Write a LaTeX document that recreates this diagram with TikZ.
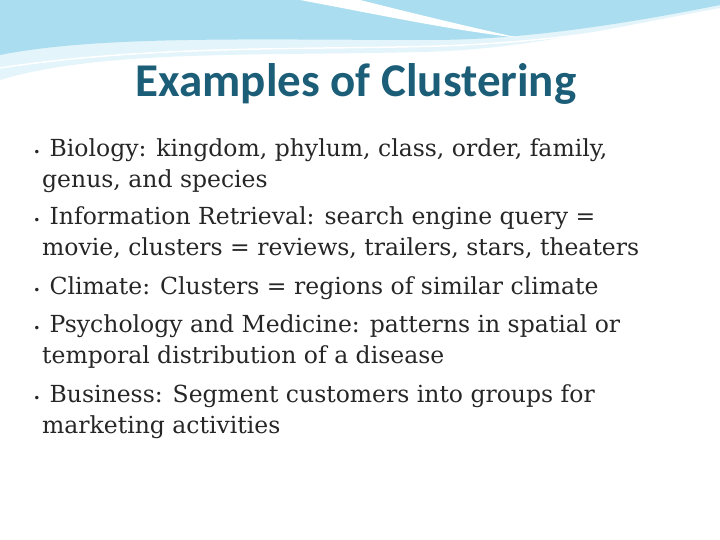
\documentclass[tikz,border=0pt]{standalone}
\usepackage{fontspec}
\setmainfont{DejaVu Serif}
\newfontfamily\titlefont{Carlito}
\usetikzlibrary{positioning}
\definecolor{wavelight}{HTML}{E3F4FA}
\definecolor{wavemid}{HTML}{A9DDEF}
\definecolor{titleblue}{HTML}{1C5E78}
\definecolor{bodytext}{HTML}{262626}
\begin{document}
\begin{tikzpicture}[x=1pt,y=-1pt,
    bullet/.style={font=\fontsize{12}{14}\selectfont,text=bodytext},
    item/.style={anchor=north west,align=left,inner sep=0pt,font=\fontsize{23.5}{31}\selectfont,text=bodytext}]
  \useasboundingbox (0,0) rectangle (720,540);
  % header waves
  \fill[wavelight] (0,0) -- (720,0) -- (720,8) .. controls (600,30) and (520,50) .. (420,52)
      .. controls (250,56) and (100,50) .. (0,80) -- cycle;
  \fill[wavemid] (0,0) -- (720,0) -- (720,5) .. controls (620,25) and (520,40) .. (430,40)
      .. controls (260,40) and (100,35) .. (0,55) -- cycle;
  \fill[white] (300,0) .. controls (380,15) and (450,30) .. (520,38)
      .. controls (460,25) and (400,10) .. (360,0) -- cycle;
  \draw[white,line width=1.5pt] (0,68) .. controls (150,45) and (300,50) .. (440,46)
      .. controls (560,42) and (650,25) .. (720,10);
  % title
  \node[font=\titlefont\bfseries\fontsize{47}{50}\selectfont,text=titleblue] (title) at (356,84) {Examples of Clustering};
  % bullets and items
  \foreach \y/\name in {152/b1,220/b2,290/b3,328/b4,398/b5}
    \node[bullet] (\name) at (37,\y+1) {\textbullet};
  \node[item] (i1) at (42,138) {\ Biology: kingdom, phylum, class, order, family,\\genus, and species};
  \node[item] (i2) at (42,206) {\ Information Retrieval: search engine query =\\movie, clusters = reviews, trailers, stars, theaters};
  \node[item] (i3) at (42,276) {\ Climate: Clusters = regions of similar climate};
  \node[item] (i4) at (42,314) {\ Psychology and Medicine: patterns in spatial or\\temporal distribution of a disease};
  \node[item] (i5) at (42,384) {\ Business: Segment customers into groups for\\marketing activities};
\end{tikzpicture}
\end{document}
